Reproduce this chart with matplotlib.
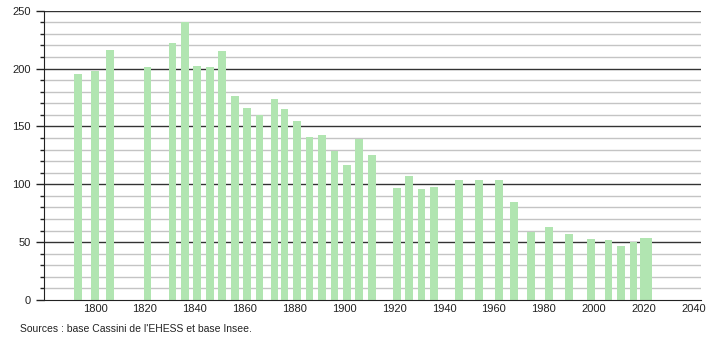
import numpy as np
import matplotlib
matplotlib.use("Agg")
from matplotlib import pyplot as plt
from matplotlib.ticker import MultipleLocator

years = [1793, 1800, 1806, 1821, 1831, 1836, 1841, 1846, 1851, 1856,
         1861, 1866, 1872, 1876, 1881, 1886, 1891, 1896, 1901, 1906,
         1911, 1921, 1926, 1931, 1936, 1946, 1954, 1962, 1968, 1975,
         1982, 1990, 1999, 2006, 2011, 2016, 2021]
population = [195, 198, 216, 201, 222, 240, 202, 201, 215, 176,
              166, 160, 174, 165, 155, 141, 143, 129, 117, 139,
              125, 97, 107, 96, 98, 104, 104, 104, 85, 59,
              63, 57, 53, 52, 47, 50, 54]
x_ticks = [1800, 1820, 1840, 1860, 1880, 1900, 1920, 1940, 1960, 1980, 2000, 2020, 2040]
source = "Sources : base Cassini de l'EHESS et base Insee."

plt.rcParams['font.family'] = ['Liberation Sans', 'DejaVu Sans']

fig = plt.figure(figsize=(7.1, 3.4), dpi=100)
ax = fig.add_axes([0.062, 0.1176, 0.925, 0.851])

# light grid every 10, dark every 50
for v in range(10, 251, 10):
    if v % 50 == 0:
        ax.axhline(v, color='#333333', lw=1.0, zorder=1)
    else:
        ax.axhline(v, color='#c4c4c4', lw=1.0, zorder=1)

widths = [3.1] * len(years)
widths[-1] = 4.5
ax.bar(years, population, width=widths, color='#b1e5b1', zorder=2)

ax.set_xlim(1779.5, 2043)
ax.set_ylim(0, 250)
ax.set_xticks(x_ticks)
ax.yaxis.set_major_locator(MultipleLocator(50))
ax.yaxis.set_minor_locator(MultipleLocator(10))
ax.tick_params(axis='x', length=0, labelsize=8, pad=3, colors='#222222')
ax.tick_params(axis='y', which='major', length=6, width=1, labelsize=8, colors='#222222')
ax.tick_params(axis='y', which='minor', length=3, width=1, colors='#222222')

for s in ['top', 'right']:
    ax.spines[s].set_visible(False)
ax.spines['left'].set_color('#222222')
ax.spines['bottom'].set_color('#222222')

fig.text(0.028, 0.024, source, fontsize=7.5, color='#222222', va='baseline')

fig.savefig('out.png', dpi=100)
